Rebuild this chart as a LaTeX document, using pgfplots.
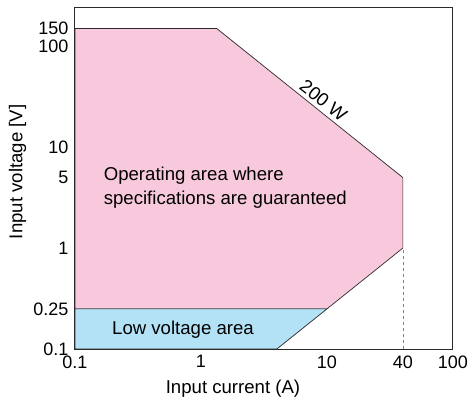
\documentclass[border=0pt]{standalone}
\usepackage{fontspec}
\setmainfont{Liberation Sans}
\usepackage{pgfplots}
\pgfplotsset{compat=1.18}
\definecolor{pinkc}{HTML}{F8C9DD}
\definecolor{bluec}{HTML}{B3E1F6}
\definecolor{linec}{HTML}{2A2A2A}
\newcommand{\fs}{\fontsize{18bp}{21bp}\selectfont}
\newcommand{\fl}{\fontsize{18.6bp}{24bp}\selectfont}
\begin{document}
\begin{tikzpicture}[font=\fs]
\begin{axis}[
  scale only axis,
  width=378bp, height=342bp,
  xmode=log, ymode=log,
  xmin=0.1, xmax=100, ymin=0.1, ymax=245,
  xtick={0.1,1,10,40,100},
  xticklabels={0.1,1,10,40,100},
  ytick={0.1,0.25,1,5,10,100,150},
  yticklabels={0.1,0.25,1,5,10,100,150},
  major tick length=0, minor tick length=0,
  /pgf/number format/assume math mode=true,
  tick label style={font=\fs},
  xticklabel style={yshift=-3bp},
  yticklabel style={xshift=-3bp},
  label style={font=\fl},
  xlabel={Input current (A)},
  ylabel={Input voltage [V]},
  xlabel style={at={(axis description cs:0.418,-0.117)}, anchor=center},
  ylabel style={at={(axis description cs:-0.152,0.518)}, anchor=center},
  axis line style={linec, line width=1bp},
  axis on top,
  clip=false,
]
\addplot[fill=pinkc, draw=linec, line width=0.7bp] coordinates {(0.1,0.25) (0.1,150) (1.3333,150) (40,5) (40,1) (10,0.25)} -- cycle;
\addplot[fill=bluec, draw=linec, line width=0.7bp] coordinates {(0.1,0.1) (0.1,0.25) (10,0.25) (4,0.1)} -- cycle;
\addplot[draw=gray, dashed, line width=0.6bp] coordinates {(40,0.1) (40,1)};
\node[font=\fl, align=left, anchor=center] at (axis cs:1.56,3.95) {Operating area where\\specifications are guaranteed};
\node[font=\fl, anchor=center] at (axis cs:0.72,0.154) {Low voltage area};
\node[font=\fl, anchor=south, rotate=-38.3, inner sep=4bp] at (axis cs:8.3,24) {200 W};
\end{axis}
\path (current axis.south west) ++(-75bp,-54bp) coordinate (bl);
\path (current axis.north east) ++(20bp,7bp) coordinate (tr);
\pgfresetboundingbox
\path[use as bounding box] (bl) rectangle (tr);
\end{tikzpicture}
\end{document}
